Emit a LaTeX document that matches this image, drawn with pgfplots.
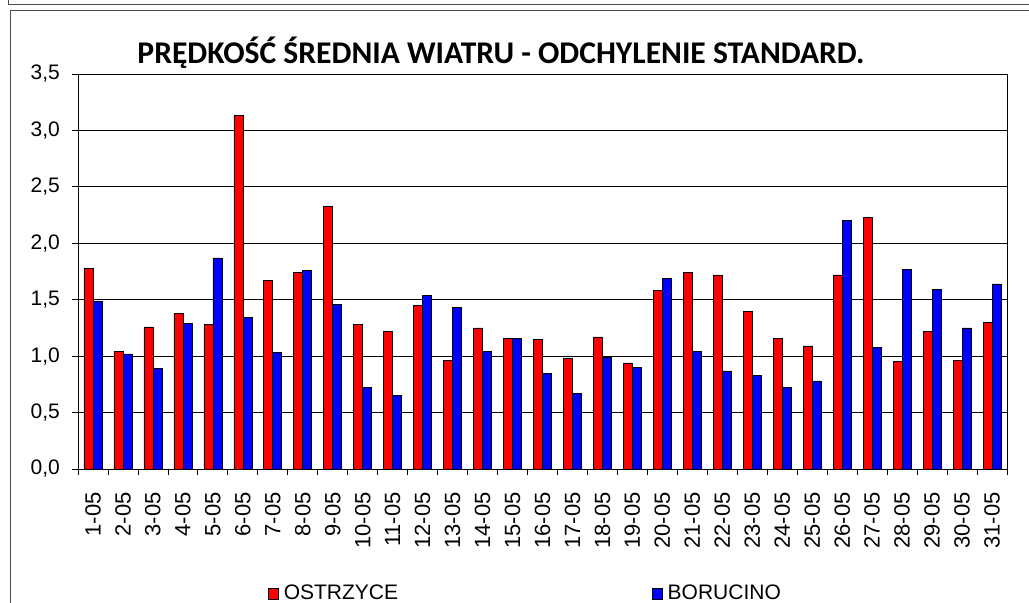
\documentclass[border=0pt]{standalone}
\usepackage{fontspec}
\setmainfont{Liberation Sans}
\newfontfamily\titlefont{Carlito}
\usepackage{pgfplots}
\pgfplotsset{compat=1.18}
\usepackage{pgfplotstable}
\pgfplotstableread{
x O B
1 1.78 1.49
2 1.04 1.02
3 1.26 0.89
4 1.38 1.29
5 1.28 1.87
6 3.13 1.34
7 1.67 1.03
8 1.74 1.76
9 2.33 1.46
10 1.28 0.72
11 1.22 0.65
12 1.45 1.54
13 0.96 1.43
14 1.25 1.04
15 1.16 1.16
16 1.15 0.85
17 0.98 0.67
18 1.17 0.99
19 0.94 0.90
20 1.58 1.69
21 1.74 1.04
22 1.72 0.87
23 1.40 0.83
24 1.16 0.72
25 1.09 0.78
26 1.72 2.20
27 2.23 1.08
28 0.95 1.77
29 1.22 1.59
30 0.96 1.25
31 1.30 1.64
}\data
\begin{document}
\begin{tikzpicture}
\begin{axis}[
  at={(0,0)}, anchor=south west,
  scale only axis, width=929bp, height=395bp,
  ybar=0pt, bar width=9bp,
  xmin=0.5, xmax=31.5, ymin=0, ymax=3.5,
  xtick={1,...,31},
  xticklabels={1-05,2-05,3-05,4-05,5-05,6-05,7-05,8-05,9-05,10-05,11-05,12-05,13-05,14-05,15-05,16-05,17-05,18-05,19-05,20-05,21-05,22-05,23-05,24-05,25-05,26-05,27-05,28-05,29-05,30-05,31-05},
  minor xtick={0.5,1.5,...,31.5},
  major x tick style={draw=none},
  minor x tick style={black, line width=0.8pt},
  xtick align=outside, ytick align=outside,
  minor tick length=6bp, major tick length=6bp,
  ytick={0,0.5,...,3.5},
  ymajorgrids, grid style={black, line width=0.8pt},
  axis line style={black, line width=0.8pt},
  ytick style={black, line width=0.8pt},
  xtick pos=bottom, ytick pos=left,
  /pgf/number format/.cd, fixed, fixed zerofill, precision=1, use comma, assume math mode=true,
  /pgfplots/.cd,
  yticklabel style={font=\fontsize{21bp}{24bp}\selectfont, inner sep=0pt},
  xticklabel style={font=\fontsize{22bp}{24bp}\selectfont, rotate=90, anchor=east, inner sep=0pt},
  xticklabel shift=17bp,
  yticklabel shift=12bp,
  legend columns=2,
  legend style={draw=none, fill=none, font=\fontsize{21bp}{24bp}\selectfont,
    at={(axis description cs:0.2045,-0.314)}, anchor=west, inner sep=0pt,
    /tikz/every odd column/.append style={column sep=4bp},
    /tikz/every even column/.append style={column sep=253bp},
    nodes={inner sep=1bp}},
  legend image code/.code={\draw[#1, draw=black, line width=0.6pt] (0bp,-6bp) rectangle (10bp,5bp);},
]
\addplot[fill={rgb,255:red,255;green,0;blue,0}, draw=black, line width=0.6pt] table[x=x,y=O]{\data};
\addlegendentry{OSTRZYCE}
\addplot[fill={rgb,255:red,0;green,0;blue,255}, draw=black, line width=0.6pt] table[x=x,y=B]{\data};
\addlegendentry{BORUCINO}
\end{axis}
\node[anchor=base, font=\titlefont\bfseries\fontsize{31.6bp}{34bp}\selectfont, inner sep=0pt] at (423bp,405bp) {PRĘDKOŚĆ ŚREDNIA WIATRU - ODCHYLENIE STANDARD.};
\draw[gray!60!black, line width=0.8pt] (-70bp,469bp) -- (-70bp,465bp) -- (951bp,465bp);
\draw[gray!60!black, line width=0.8pt] (-68bp,-134bp) -- (-68bp,459bp) -- (951bp,459bp);
\pgfresetboundingbox
\useasboundingbox (-78bp,-134bp) rectangle (951bp,469bp);
\end{tikzpicture}
\end{document}
